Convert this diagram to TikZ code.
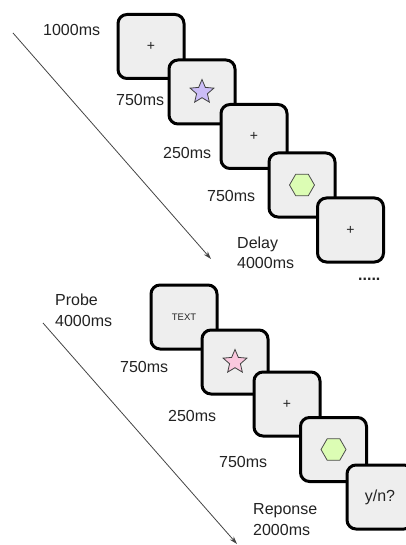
\documentclass[tikz,border=0pt]{standalone}
\usepackage{fontspec}
\setmainfont{Liberation Sans}
\usetikzlibrary{shapes.geometric,arrows.meta}
\definecolor{boxfill}{HTML}{EEEEEE}
\definecolor{txt}{HTML}{222222}
\definecolor{lav}{HTML}{CBBDF7}
\definecolor{pinkst}{HTML}{FAC8DE}
\definecolor{hexg}{HTML}{DCFDB4}
\definecolor{arr}{HTML}{444444}
\tikzset{
  stim/.style={draw=black, line width=3pt, fill=boxfill, rounded corners=9pt,
    minimum width=66pt, minimum height=64pt, inner sep=0pt, text=txt,
    font=\fontsize{14}{16}\selectfont},
  lbl/.style={anchor=west, inner sep=0pt, text=txt, align=left,
    font=\fontsize{16}{20.5}\selectfont},
  starsh/.style={star, star points=5, star point ratio=2.2, minimum size=25pt,
    inner sep=0pt, draw=black!75, line width=0.8pt},
  hexsh/.style={regular polygon, regular polygon sides=6,
    minimum size=25pt, inner sep=0pt, draw=black!70, line width=0.8pt, fill=hexg},
  timearrow/.style={draw=arr, line width=0.8pt, -{Stealth[length=8pt,width=5pt]}}
}
\begin{document}
\begin{tikzpicture}[x=1pt,y=-1pt]
\useasboundingbox (0,0) rectangle (406,545);
% top sequence
\coordinate (a1) at (13,33);
\coordinate (a2) at (211,259);
\draw[timearrow] (a1) -- (a2);
\node[stim] (t1) at (151,46.5) {+};
\node[stim] (t2) at (202,92) {};
\node[starsh, fill=lav] (s1) at (t2) {};
\node[stim] (t3) at (254,136.5) {+};
\node[stim] (t4) at (302,185) {};
\node[hexsh] (h1) at (t4) {};
\node[stim] (t5) at (350.5,230) {+};
\node[lbl] (l1) at (43,30) {1000ms};
\node[lbl] (l2) at (116,100) {750ms};
\node[lbl] (l3) at (163,153) {250ms};
\node[lbl] (l4) at (207,196) {750ms};
\node[lbl] (l5) at (237,253) {Delay\\4000ms};
\node[lbl] (dots) at (358,279) {\textbf{.....}};
% bottom sequence
\coordinate (b1) at (43,323);
\coordinate (b2) at (237,544);
\draw[timearrow] (b1) -- (b2);
\node[stim, font=\fontsize{9.5}{11}\selectfont] (p1) at (184,317) {TEXT};
\node[stim] (p2) at (235,362) {};
\node[starsh, fill=pinkst] (s2) at (p2) {};
\node[stim] (p3) at (287,404) {+};
\node[stim] (p4) at (333.5,449.5) {};
\node[hexsh] (h2) at (p4) {};
\node[stim, font=\fontsize{16}{18}\selectfont] (p5) at (380,497) {y/n?};
\node[lbl] (m1) at (55,310.5) {Probe\\4000ms};
\node[lbl] (m2) at (120,367) {750ms};
\node[lbl] (m3) at (168,416) {250ms};
\node[lbl] (m4) at (219,462) {750ms};
\node[lbl] (m5) at (253,519.5) {Reponse\\2000ms};
\end{tikzpicture}
\end{document}
